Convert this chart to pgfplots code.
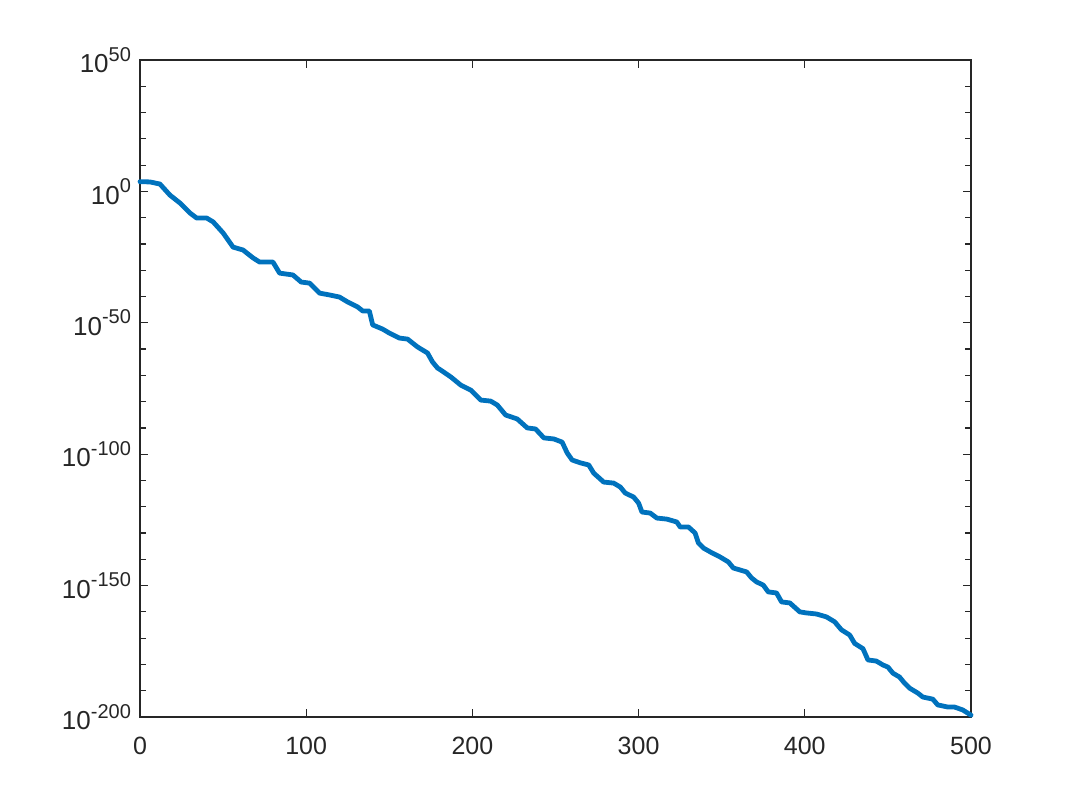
\documentclass[border=0pt]{standalone}
\usepackage{fontspec}
\setmainfont{Liberation Sans}
\usepackage{pgfplots}
\pgfplotsset{compat=1.18}
\definecolor{mblue}{RGB}{0,114,189}
\definecolor{axgray}{RGB}{38,38,38}
\newcommand\tp[1]{\fontsize{13}{14}\selectfont 10\raisebox{5.8pt}{\fontsize{10}{11}\selectfont #1}}
\begin{document}
\begin{tikzpicture}
\useasboundingbox (-70pt,-45pt) rectangle (467.5pt,358.5pt);
\begin{axis}[
  at={(0pt,0pt)}, anchor=south west,
  scale only axis, width=415.5pt, height=328.5pt,
  ymode=log,
  xmin=0, xmax=500, ymin=1e-200, ymax=1e50,
  xtick={0,100,200,300,400,500},
  xticklabels={0,100,200,300,400,500},
  ytick={1e-200,1e-150,1e-100,1e-50,1,1e50},
  yticklabels={\tp{-200},\tp{-150},\tp{-100},\tp{-50},\tp{0},\tp{50}},
  minor ytick={1e-190,1e-180,1e-170,1e-160,1e-140,1e-130,1e-120,1e-110,1e-90,1e-80,1e-70,1e-60,1e-40,1e-30,1e-20,1e-10,1e10,1e20,1e30,1e40},
  minor xtick={},
  tick align=inside,
  major tick length=4pt, minor tick length=3pt,
  axis line style={axgray, line width=0.6pt},
  every tick/.style={axgray, line width=0.6pt},
  tick label style={font=\fontsize{12.5}{14}\selectfont, text=axgray},
  xticklabel style={yshift=-6.5pt},
  yticklabel style={xshift=-1pt},
  clip=false,
]
\addplot[mblue, line width=2.4pt, line join=round, line cap=round] coordinates {
(0,5.01e3) (6,3.98e3) (12,6.31e2) (18,3.98e-2) (24,3.98e-5) (30,6.31e-9)
(34,7.94e-11) (40,7.94e-11) (44,2.51e-12) (50,1.58e-16) (56,6.31e-22) (62,5.01e-23)
(68,5.01e-26) (72,1.26e-27) (80,1.26e-27) (84,7.94e-32) (92,1.58e-32) (97,3.16e-35)
(102,1.26e-35) (108,2.0e-39) (114,3.98e-40) (120,6.31e-41) (125,7.94e-43) (131,1e-44)
(134,3.16e-46) (138,3.16e-46) (140,1.58e-51) (146,3.98e-53) (150,1.26e-54) (156,1.58e-56)
(161,6.31e-57) (167,6.31e-60) (173,3.16e-62) (176,1.26e-65) (179,6.31e-68) (181,1e-68)
(187,2.51e-71) (193,2.0e-74) (199,2.51e-76) (205,3.98e-80) (211,1.58e-80) (215,5.01e-82)
(220,7.94e-86) (227,2.51e-87) (233,1e-90) (238,3.98e-91) (243,1.58e-94) (249,6.31e-95)
(254,3.98e-96) (257,3.16e-100) (260,6.31e-103) (265,5.01e-104) (270,7.94e-105) (273,6.31e-108)
(279,2.51e-111) (285,1e-111) (289,3.16e-113) (292,1.58e-115) (297,5.01e-117) (300,2.51e-119)
(302,1e-122) (307,3.98e-123) (311,5.01e-125) (317,2.0e-125) (323,1.58e-126) (325,2.0e-128)
(330,2.0e-128) (334,1e-130) (336,1.58e-134) (339,2.0e-136) (344,3.16e-138) (349,7.94e-140)
(354,1e-141) (357,5.01e-144) (365,1.58e-145) (368,7.94e-148) (371,2.51e-149) (375,1.58e-150)
(378,3.98e-153) (383,1.58e-153) (386,6.31e-157) (391,2.51e-157) (397,1e-160) (401,3.98e-161)
(407,1.58e-161) (413,1.26e-162) (418,1.58e-164) (422,1.58e-167) (427,1.58e-169) (430,1e-172)
(435,1e-174) (438,5.01e-179) (443,2.0e-179) (447,6.31e-181) (450,1e-181) (453,5.01e-184)
(457,1.58e-185) (460,7.94e-188) (463,1e-189) (468,1.26e-191) (471,3.98e-193) (477,6.31e-194)
(480,3.98e-196) (486,6.31e-197) (490,6.31e-197) (495,5.01e-198) (500,5.01e-200)
};
\end{axis}
\end{tikzpicture}
\end{document}
